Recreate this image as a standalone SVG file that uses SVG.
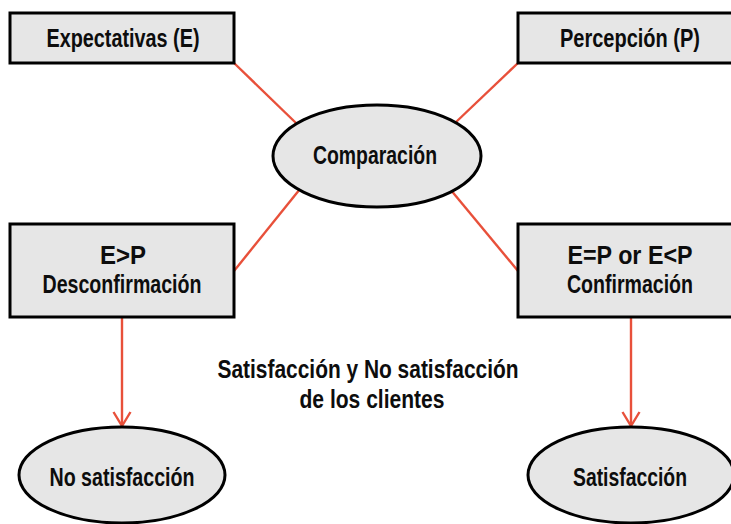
<svg xmlns="http://www.w3.org/2000/svg" width="731" height="524" viewBox="0 0 731 524">
<defs>
<style>
.box{fill:#e6e6e6;stroke:#000;stroke-width:3}
.t{font-family:"Liberation Sans",Arial,sans-serif;font-weight:bold;font-size:25px;fill:#0d0d0d;text-anchor:middle}
.c{stroke:#e8503a;stroke-width:2.4;fill:none}
</style>
<marker id="ah" viewBox="0 0 20 20" refX="18" refY="10" markerWidth="20" markerHeight="20" markerUnits="userSpaceOnUse" orient="auto">
<path d="M4,1.5 L18,10 L4,18.5" fill="none" stroke="#e8503a" stroke-width="2.4"/>
</marker>
</defs>
<rect width="731" height="524" fill="#fff"/>
<g id="connectors">
<line class="c" x1="234" y1="63" x2="296" y2="123"/>
<line class="c" x1="518" y1="63" x2="455" y2="123"/>
<line class="c" x1="300" y1="189" x2="234" y2="271"/>
<line class="c" x1="450" y1="189" x2="518" y2="271"/>
<line class="c" x1="122" y1="317" x2="122" y2="426" marker-end="url(#ah)"/>
<line class="c" x1="631" y1="317" x2="631" y2="426" marker-end="url(#ah)"/>
</g>
<g id="expectativas">
<rect class="box" x="10" y="13" width="224" height="50"/>
<text class="t" x="123" y="47" textLength="153" lengthAdjust="spacingAndGlyphs">Expectativas (E)</text>
</g>
<g id="percepcion">
<rect class="box" x="518" y="13" width="224" height="50"/>
<text class="t" x="630" y="47" textLength="140" lengthAdjust="spacingAndGlyphs">Percepción (P)</text>
</g>
<g id="comparacion">
<ellipse class="box" cx="377" cy="156" rx="104" ry="51"/>
<text class="t" x="375" y="164" textLength="124" lengthAdjust="spacingAndGlyphs">Comparación</text>
</g>
<g id="desconfirmacion">
<rect class="box" x="10" y="224" width="224" height="93"/>
<text class="t" x="123" y="264" textLength="46" lengthAdjust="spacingAndGlyphs">E&gt;P</text>
<text class="t" x="122" y="293" textLength="159" lengthAdjust="spacingAndGlyphs">Desconfirmación</text>
</g>
<g id="confirmacion">
<rect class="box" x="518" y="224" width="224" height="93"/>
<text class="t" x="630" y="264" textLength="125" lengthAdjust="spacingAndGlyphs">E=P or E&lt;P</text>
<text class="t" x="630" y="293" textLength="126" lengthAdjust="spacingAndGlyphs">Confirmación</text>
</g>
<g id="no-satisfaccion">
<ellipse class="box" cx="122" cy="475" rx="103" ry="48"/>
<text class="t" x="122" y="486" textLength="145" lengthAdjust="spacingAndGlyphs">No satisfacción</text>
</g>
<g id="satisfaccion">
<ellipse class="box" cx="631" cy="475" rx="103" ry="48"/>
<text class="t" x="630" y="486" textLength="114" lengthAdjust="spacingAndGlyphs">Satisfacción</text>
</g>
<g id="title">
<text class="t" x="368" y="378" textLength="301" lengthAdjust="spacingAndGlyphs">Satisfacción y No satisfacción</text>
<text class="t" x="372" y="408" textLength="145" lengthAdjust="spacingAndGlyphs">de los clientes</text>
</g>
</svg>
